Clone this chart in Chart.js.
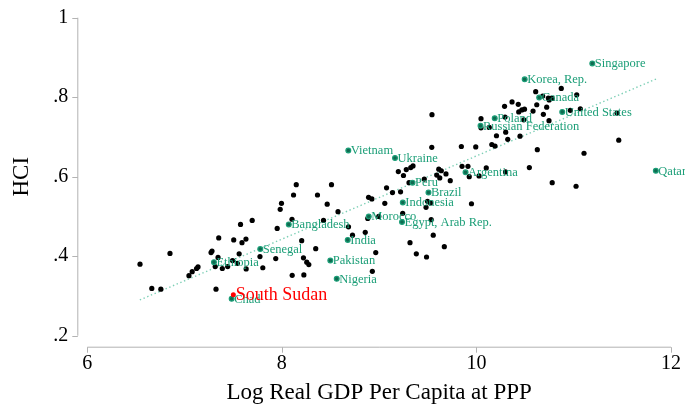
<!DOCTYPE html>
<html><head><meta charset="utf-8">
<script src="https://cdn.jsdelivr.net/npm/chart.js@4"></script>
<style>html,body{margin:0;padding:0;background:#fff}#wrap{width:685px;height:408px}</style>
</head><body><div id="wrap"><canvas id="c" width="685" height="408"></canvas></div>
<script>
// Unlabeled countries: log GDP per capita (x) and HCI (y)
const gdp = [6.542,6.850,6.663,6.756,7.045,7.078,7.123,7.138,7.272,7.282,7.351,7.575,7.695,7.505,7.590,7.631,7.561,7.344,7.315,7.388,
7.443,7.493,7.542,7.633,7.323,7.775,7.937,7.804,7.952,7.983,7.996,8.120,8.148,8.104,8.204,8.222,8.256,8.277,8.106,8.226,
8.348,8.366,8.466,8.428,8.510,8.577,8.685,8.726,8.857,8.891,8.925,8.883,8.965,8.930,8.996,9.076,9.137,9.220,9.058,9.242,
9.317,9.382,9.487,9.307,9.197,9.250,9.279,9.325,9.348,9.464,9.497,9.528,9.482,9.535,9.556,9.670,9.541,9.543,9.845,9.993,
10.158,10.191,10.206,10.301,10.322,10.448,9.613,9.639,9.592,9.623,9.687,9.731,9.852,9.913,9.926,10.027,10.101,10.299,10.544,10.626,
10.779,11.024,11.106,11.463,9.949,10.289,10.366,10.430,10.435,10.467,10.494,10.047,10.294,10.487,10.047,10.132,10.609,10.872,11.031,10.681,
10.739,10.762,10.777,10.748,10.620,10.722,10.582,10.688,10.965,11.068,11.445,10.746];
const hci = [0.380,0.407,0.319,0.317,0.351,0.361,0.369,0.373,0.409,0.413,0.446,0.480,0.490,0.441,0.434,0.443,0.406,0.397,0.374,0.369,
0.374,0.389,0.382,0.368,0.317,0.399,0.394,0.371,0.470,0.518,0.533,0.554,0.580,0.493,0.439,0.396,0.385,0.379,0.352,0.353,
0.419,0.554,0.531,0.490,0.580,0.512,0.474,0.453,0.460,0.548,0.544,0.495,0.409,0.362,0.500,0.572,0.560,0.562,0.533,0.508,
0.434,0.406,0.398,0.585,0.613,0.603,0.618,0.623,0.627,0.594,0.538,0.534,0.523,0.492,0.453,0.424,0.674,0.756,0.676,0.675,
0.681,0.677,0.703,0.712,0.694,0.702,0.619,0.615,0.604,0.597,0.607,0.590,0.626,0.626,0.600,0.602,0.622,0.612,0.623,0.668,
0.585,0.576,0.659,0.692,0.532,0.777,0.788,0.782,0.763,0.768,0.770,0.746,0.750,0.743,0.723,0.724,0.814,0.822,0.806,0.803,
0.798,0.797,0.797,0.793,0.781,0.775,0.765,0.757,0.767,0.771,0.760,0.741];

// Highlighted countries
const labelNames = ['Singapore','Korea, Rep.','Canada','United States','Poland','Russian Federation','Vietnam','Ukraine','Argentina','Qatar',
'Peru','Brazil','Indonesia','Morocco','Egypt, Arab Rep.','Bangladesh','India','Senegal','Ethiopia','Pakistan','Nigeria','Chad'];
const labelGdp = [11.191,10.496,10.645,10.882,10.188,10.042,8.683,9.163,9.888,11.844,
9.343,9.507,9.243,8.893,9.235,8.071,8.677,7.778,7.302,8.498,8.564,7.484];
const labelHci = [0.885,0.845,0.799,0.763,0.747,0.728,0.666,0.647,0.611,0.615,
0.585,0.560,0.535,0.500,0.486,0.480,0.441,0.418,0.385,0.389,0.343,0.293];

const redNames = ['South Sudan'];
const redGdp = [7.501];
const redHci = [0.303];

// Fitted line endpoints
const fitGdp = [6.54, 11.85];
const fitHci = [0.290, 0.846];

const xTicks = [6, 8, 10, 12];
const yTicks = [0.2, 0.4, 0.6, 0.8, 1];
const yTickLabels = ['.2', '.4', '.6', '.8', '1'];

const SERIF = "'Liberation Serif','DejaVu Serif',serif";
const GREEN = '#1b9e77';

const toPts = (xs, ys) => xs.map((x, i) => ({x: x, y: ys[i]}));
const zeroPad = s => { s.paddingTop = 0; s.paddingBottom = 0; s.paddingLeft = 0; s.paddingRight = 0; };

const axesPlugin = {
  id: 'stataAxes',
  afterDraw(chart) {
    const ctx = chart.ctx, xs = chart.scales.x, ys = chart.scales.y;
    const axX = chart.chartArea.left - 10, axY = chart.chartArea.bottom + 11;
    ctx.save();
    ctx.strokeStyle = '#b3b3b3';
    ctx.lineWidth = 1;
    ctx.beginPath();
    ctx.moveTo(axX + 0.5, ys.getPixelForValue(yTicks[0]));
    ctx.lineTo(axX + 0.5, ys.getPixelForValue(yTicks[yTicks.length - 1]));
    yTicks.forEach(v => { const p = Math.round(ys.getPixelForValue(v)) + 0.5; ctx.moveTo(axX + 0.5, p); ctx.lineTo(axX - 5, p); });
    ctx.moveTo(xs.getPixelForValue(xTicks[0]), axY + 0.5);
    ctx.lineTo(xs.getPixelForValue(xTicks[xTicks.length - 1]), axY + 0.5);
    xTicks.forEach(v => { const p = Math.round(xs.getPixelForValue(v)) + 0.5; ctx.moveTo(p, axY + 0.5); ctx.lineTo(p, axY + 6); });
    ctx.stroke();
    ctx.restore();
  },
  afterDatasetsDraw(chart) {
    const ctx = chart.ctx;
    ctx.save();
    ctx.textBaseline = 'middle';
    ctx.textAlign = 'left';
    const gm = chart.getDatasetMeta(2);
    ctx.font = '12.5px ' + SERIF;
    ctx.fillStyle = GREEN;
    gm.data.forEach((el, i) => { ctx.fillText(labelNames[i], el.x + 2.5, el.y + 0.5); });
    const rm = chart.getDatasetMeta(3);
    ctx.font = '18px ' + SERIF;
    ctx.fillStyle = '#ff0000';
    rm.data.forEach((el, i) => { ctx.fillText(redNames[i], el.x + 2.5, el.y + 1); });
    ctx.restore();
  }
};

new Chart(document.getElementById('c'), {
  type: 'scatter',
  data: {
    datasets: [
      { type: 'line', data: toPts(fitGdp, fitHci), borderColor: '#7ccfb5', borderWidth: 1.4,
        borderDash: [1.4, 2.6], pointRadius: 0, fill: false, order: 4 },
      { data: toPts(gdp, hci), backgroundColor: '#000', borderColor: '#000', pointRadius: 2.6, borderWidth: 0, order: 3 },
      { data: toPts(labelGdp, labelHci), backgroundColor: '#0f6b50', borderColor: GREEN, pointRadius: 2.4, borderWidth: 1.2, order: 2 },
      { data: toPts(redGdp, redHci), backgroundColor: '#ff0000', borderColor: '#ff0000', pointRadius: 2.5, borderWidth: 0, order: 1 }
    ]
  },
  options: {
    responsive: false,
    animation: false,
    devicePixelRatio: 1,
    layout: { autoPadding: false, padding: { top: 17.7, right: 14, bottom: 0, left: 0 } },
    plugins: { legend: { display: false }, tooltip: { enabled: false } },
    scales: {
      x: {
        type: 'linear', min: 6, max: 12,
        grid: { display: false, drawTicks: false }, border: { display: false },
        afterBuildTicks: s => { s.ticks = xTicks.map(v => ({value: v})); },
        afterFit: s => { s.height = 72.3; zeroPad(s); },
        ticks: { font: { family: SERIF, size: 20 }, color: '#000', padding: 16, maxRotation: 0,
                 callback: v => String(v) },
        title: { display: true, text: 'Log Real GDP Per Capita at PPP', color: '#000',
                 font: { family: SERIF, size: 23 }, padding: { top: 0, bottom: 1 } }
      },
      y: {
        type: 'linear', min: 0.2, max: 1,
        grid: { display: false, drawTicks: false }, border: { display: false },
        afterBuildTicks: s => { s.ticks = yTicks.map(v => ({value: v})); },
        afterFit: s => { s.width = 87.3; zeroPad(s); },
        ticks: { font: { family: SERIF, size: 20 }, color: '#000', padding: 19,
                 callback: (v, i) => yTickLabels[i] },
        title: { display: true, text: 'HCI', color: '#000',
                 font: { family: SERIF, size: 23 }, padding: { top: 8.5, bottom: 0 } }
      }
    }
  },
  plugins: [axesPlugin]
});
</script>
</body></html>
